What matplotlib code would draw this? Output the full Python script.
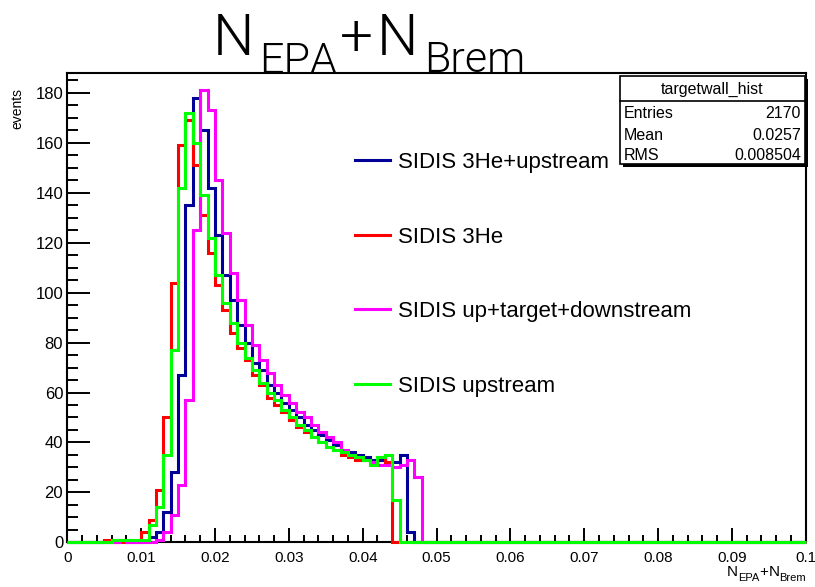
import numpy as np
import matplotlib
matplotlib.use('Agg')
import matplotlib.pyplot as plt
from matplotlib import font_manager
from matplotlib.font_manager import FontProperties
from matplotlib.patches import Rectangle
from matplotlib.lines import Line2D


def pick(fams):
    avail = {f.name for f in font_manager.fontManager.ttflist}
    for f in fams:
        if f in avail:
            return f
    return 'DejaVu Sans'


def light_font():
    for name in ['Roboto', 'Open Sans', 'Lato', 'Inter', 'Noto Sans']:
        for f in font_manager.fontManager.ttflist:
            w = f.weight
            if isinstance(w, str):
                w = font_manager.weight_dict.get(w, 400)
            if f.name == name and w == 300 and f.style == 'normal':
                return dict(fname=f.fname)
    return dict(family=pick(['Lato', 'Liberation Sans']))


SANS = pick(['Liberation Sans', 'Arial', 'DejaVu Sans'])
NARROW = pick(['Liberation Sans Narrow', 'Liberation Sans'])
THIN = light_font()

# ---------------- data ----------------
bin_edges = np.round(np.linspace(0.0, 0.1, 101), 4)

blue_3he_upstream = [0, 0, 0, 0, 0, 0, 0, 1, 0, 0,
                     0, 2, 4, 12, 28, 67, 135, 178, 165, 142,
                     123, 107, 97, 87, 80, 72, 69, 63, 60, 56,
                     53, 50, 47, 45, 43, 41, 39, 37, 36, 35,
                     34, 33, 33, 32, 32, 35, 4, 0, 0, 0] + [0] * 50

red_3he = [0, 0, 0, 0, 0, 1, 0, 0, 0, 0,
           4, 9, 21, 50, 104, 159, 169, 151, 131, 116,
           103, 93, 84, 78, 73, 67, 63, 58, 55, 52,
           49, 46, 44, 42, 40, 38, 37, 35, 34, 33,
           33, 32, 34, 32, 0, 0, 0, 0, 0, 0] + [0] * 50

magenta_up_target_down = [0, 0, 0, 0, 0, 0, 0, 1, 0, 0,
                          0, 0, 1, 4, 11, 23, 57, 125, 181, 173,
                          145, 124, 108, 97, 87, 79, 73, 68, 63, 59,
                          56, 52, 50, 47, 44, 42, 40, 37, 35, 34,
                          33, 32, 31, 31, 30, 31, 33, 26, 0, 0] + [0] * 50

green_upstream = [0, 0, 0, 0, 0, 0, 1, 1, 1, 1,
                  1, 7, 14, 35, 77, 142, 172, 160, 139, 122,
                  107, 96, 88, 80, 74, 69, 64, 60, 57, 53,
                  50, 47, 45, 42, 40, 38, 37, 36, 35, 34,
                  33, 31, 34, 35, 17, 0, 0, 0, 0, 0] + [0] * 50

series_labels = ['SIDIS 3He+upstream', 'SIDIS 3He',
                 'SIDIS up+target+downstream', 'SIDIS upstream']
series_colors = ['#000099', '#ff0000', '#ff00ff', '#00ff00']

x_ticks = [0.0, 0.01, 0.02, 0.03, 0.04, 0.05, 0.06, 0.07, 0.08, 0.09, 0.1]
x_tick_labels = ['0', '0.01', '0.02', '0.03', '0.04', '0.05', '0.06',
                 '0.07', '0.08', '0.09', '0.1']
y_ticks = [0, 20, 40, 60, 80, 100, 120, 140, 160, 180]
y_tick_labels = ['0', '20', '40', '60', '80', '100', '120', '140', '160', '180']

stats_name = 'targetwall_hist'
stats_rows = [('Entries', '2170'), ('Mean', '0.0257'), ('RMS', '0.008504')]

# ---------------- figure ----------------
W, H = 815, 587
fig = plt.figure(figsize=(W / 100, H / 100), dpi=100)
fig.patch.set_facecolor('white')


def fx(x):
    return x / W


def fy(y):
    return 1 - y / H


L, R, T, B = 67.3, 805.8, 73.0, 542.3
ax = fig.add_axes([fx(L), fy(B), (R - L) / W, (B - T) / H])

series = [blue_3he_upstream, red_3he, magenta_up_target_down, green_upstream]
handles = []
for vals, col, lab in zip(series, series_colors, series_labels):
    ax.stairs(vals, bin_edges, baseline=0, color=col, lw=2.2,
              clip_on=False, zorder=3)
    handles.append(Line2D([], [], color=col, lw=2.2))

ax.set_xlim(0, 0.1)
ax.set_ylim(0, 188)

for s in ax.spines.values():
    s.set_linewidth(1.5)
    s.set_color('black')

ax.set_xticks(x_ticks, x_tick_labels, fontsize=11, fontfamily=SANS)
ax.set_yticks(y_ticks, y_tick_labels, fontsize=12, fontfamily=NARROW)
ax.set_xticks(np.round(np.arange(0, 0.1001, 0.002), 4), minor=True)
ax.set_yticks(np.arange(0, 188, 5), minor=True)
ax.tick_params(axis='x', which='major', direction='in', length=10, width=1.4,
               pad=6, top=False)
ax.tick_params(axis='x', which='minor', direction='in', length=5, width=1.4,
               top=False)
ax.tick_params(axis='y', which='major', direction='in', length=16.5, width=1.4,
               pad=3, right=False)
ax.tick_params(axis='y', which='minor', direction='in', length=8, width=1.4,
               right=False)

# legend
leg = ax.legend(handles, series_labels, loc='upper left',
                bbox_to_anchor=(fx(355), fy(152)), bbox_transform=fig.transFigure,
                frameon=False, prop={'family': SANS, 'size': 16},
                handlelength=1.58, handletextpad=0.36, labelspacing=2.41,
                borderpad=0, borderaxespad=0)

# stats box
bx0, bx1, by0, by1 = 620, 805, 76, 164
fig.add_artist(Rectangle((fx(bx0 + 3), fy(by1 + 3)), (bx1 - bx0) / W,
                         (by1 - by0) / H, transform=fig.transFigure,
                         fc='black', ec='black', lw=0, zorder=5))
fig.add_artist(Rectangle((fx(bx0), fy(by1)), (bx1 - bx0) / W,
                         (by1 - by0) / H, transform=fig.transFigure,
                         fc='white', ec='black', lw=1.2, zorder=6))
fig.add_artist(Line2D([fx(bx0), fx(bx1)], [fy(101), fy(101)],
                      transform=fig.transFigure, color='black', lw=1.2, zorder=7))
fig.text(fx((bx0 + bx1) / 2), fy(89), stats_name, ha='center', va='center',
         fontsize=11.5, family=SANS, zorder=8)
for (k, v), yy in zip(stats_rows, [114, 135, 156]):
    fig.text(fx(624), fy(yy), k, ha='left', va='center', fontsize=11.5,
             family=SANS, zorder=8)
    fig.text(fx(801), fy(yy), v, ha='right', va='center', fontsize=11.5,
             family=SANS, zorder=8)

# y label
fig.text(fx(17), fy(88), 'events', rotation=90, ha='center', va='top',
         fontsize=10, family=SANS)

renderer = fig.canvas.get_renderer()


def rich(x_px, base_px, parts, font, align='left'):
    texts = []
    widths = []
    for s, size, drop, gap in parts:
        fp = FontProperties(size=size, **font)
        t = fig.text(0, 0, s, fontproperties=fp, ha='left', va='baseline')
        widths.append(t.get_window_extent(renderer).width + gap)
        texts.append((t, drop))
    total = sum(widths)
    x = x_px if align == 'left' else x_px - total
    for (t, drop), w in zip(texts, widths):
        t.set_position((fx(x), fy(base_px + drop)))
        x += w


rich(213, 55, [('N', 42, 0, 5), ('EPA', 31, 18, 3), ('+', 42, 0, 3),
               ('N', 42, 0, 6), ('Brem', 31, 17, 0)], THIN)
rich(806, 576, [('N', 11, 0, 0), ('EPA', 8, 5, 0), ('+', 11, 0, 0),
                ('N', 11, 0, 0), ('Brem', 8, 5, 0)],
     dict(family=NARROW), align='right')

fig.savefig('out.png', dpi=100, facecolor='white')
